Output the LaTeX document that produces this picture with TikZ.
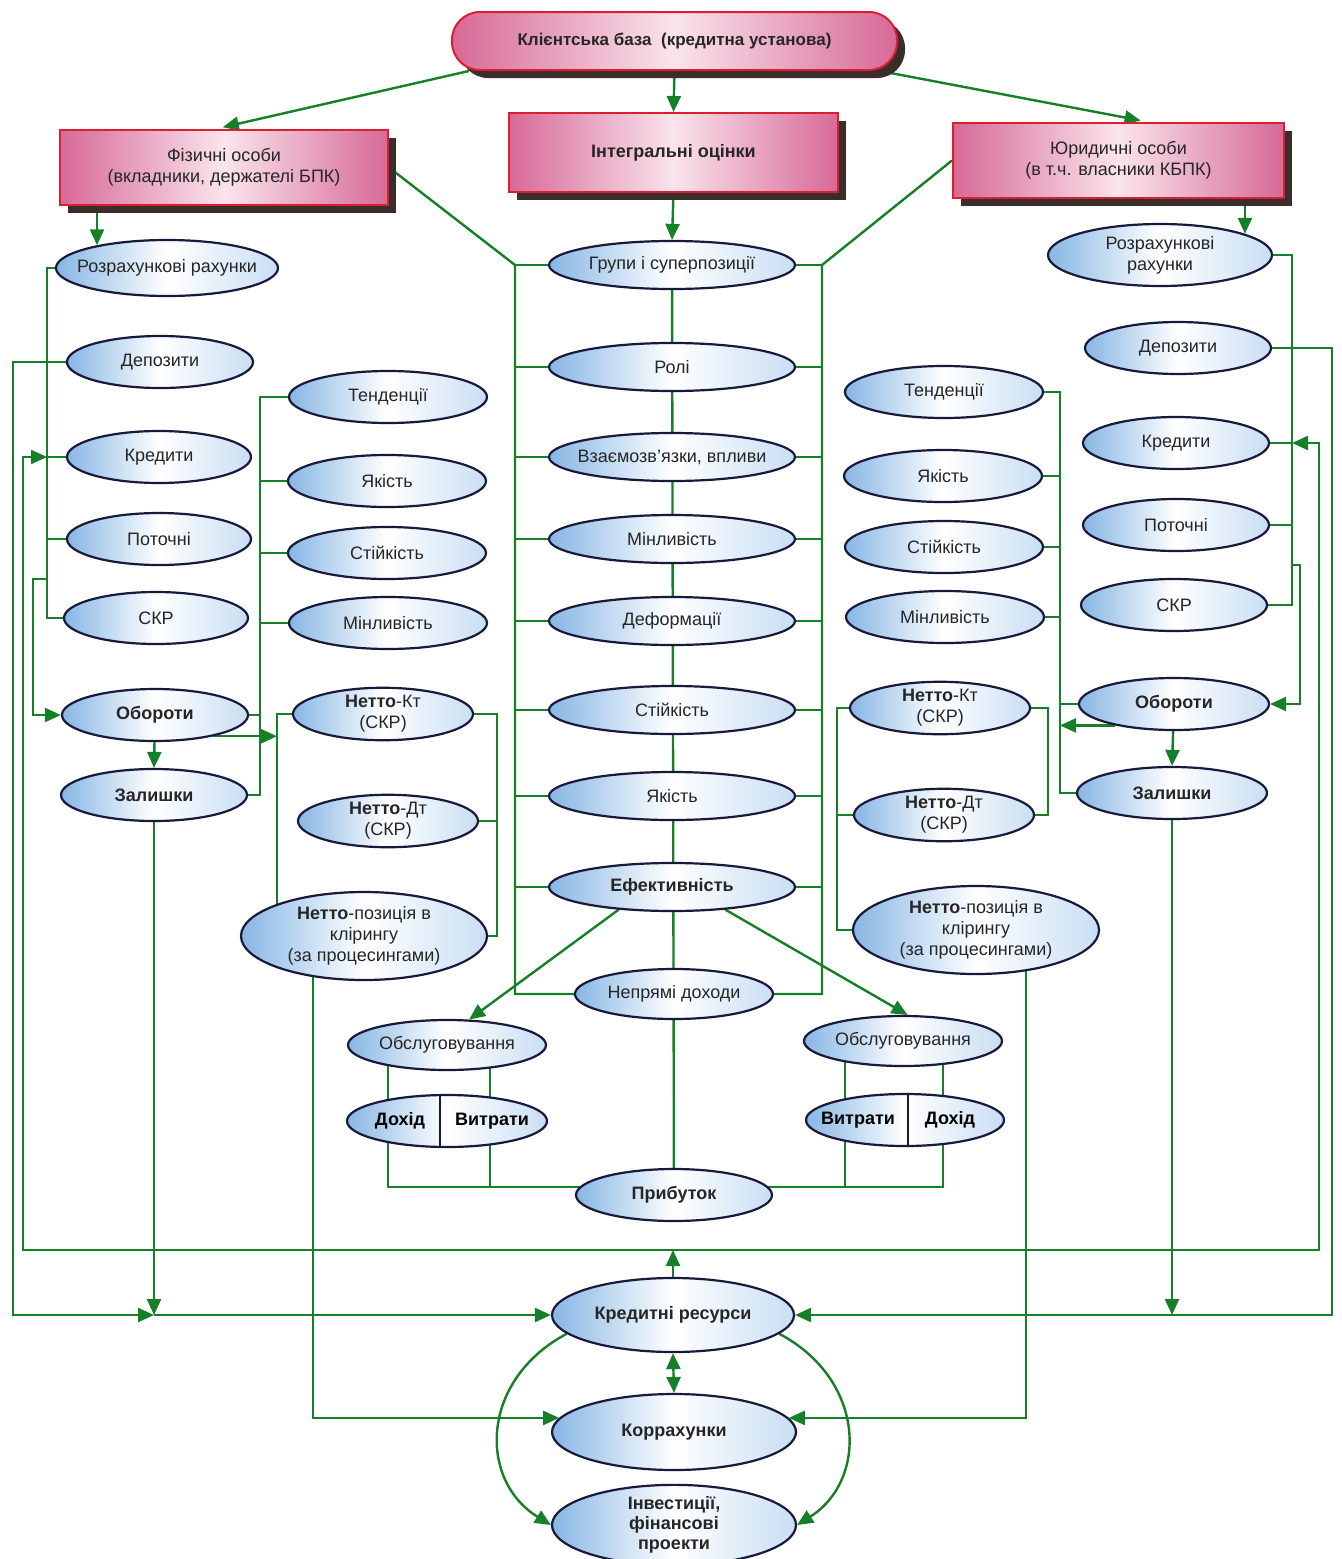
\documentclass[tikz,border=0pt]{standalone}
\usepackage{fontspec}
\setmainfont{Liberation Sans}
\usetikzlibrary{shapes.geometric,arrows.meta,backgrounds,shadows,calc}
\definecolor{lg}{RGB}{22,128,40}
\definecolor{eblue}{RGB}{135,182,228}
\definecolor{navy}{RGB}{25,25,60}
\definecolor{pinkD}{RGB}{215,105,150}
\definecolor{pinkL}{RGB}{250,228,236}
\definecolor{bred}{RGB}{220,30,50}
\definecolor{shd}{RGB}{60,45,45}
\newcommand\dgfs{\fontsize{9}{10.5}\selectfont}
\begin{document}
\begin{tikzpicture}[x=0.5pt,y=-0.5pt,font=\dgfs,
  es/.style 2 args={minimum width={#1*0.5pt},minimum height={#2*0.5pt}},
  ell/.style={ellipse,draw=navy,line width=1.1pt,inner sep=0pt,align=center,
    left color=eblue,right color=eblue!45!white,middle color=white,text=black!85},
  bt/.style={font=\dgfs\bfseries},
  pbox/.style={rectangle,draw=bred,line width=1pt,align=center,inner sep=2pt,
    left color=pinkD,right color=pinkD,middle color=pinkL,text=black!85,
    drop shadow={shadow xshift=4pt,shadow yshift=-4pt,fill=shd,opacity=1}},
  conn/.style={draw=lg,line width=1.2pt},
  arr/.style={conn,-{Triangle[length=8pt,width=7pt]}},
  darr/.style={conn,{Triangle[length=8pt,width=7pt]}-{Triangle[length=8pt,width=7pt]}},
  divl/.style={draw=navy,line width=1.1pt}]
\useasboundingbox (0,0) rectangle (1341,1559);

% top level
\node[pbox,es={445}{58},rounded corners=14pt,font=\fontsize{8.5}{10}\selectfont\bfseries] (top) at (674.5,41) {Клієнтська база\ \ (кредитна установа)};
\node[pbox,es={328}{75}] (fiz) at (224,167.5) {Фізичні особи\\(вкладники, держателі БПК)};
\node[pbox,es={329}{79},bt] (integ) at (673.5,152.5) {Інтегральні оцінки};
\node[pbox,es={331}{75}] (yur) at (1118.5,160.5) {Юридичні особи\\(в т.ч. власники КБПК)};

% left column
\node[ell,es={222}{56},inner xsep=-13pt] (lRR) at (167,268) {Розрахункові рахунки};
\node[ell,es={186}{52}] (lDep) at (160,362) {Депозити};
\node[ell,es={184}{52}] (lKred) at (159,457) {Кредити};
\node[ell,es={184}{52}] (lPot) at (159,539) {Поточні};
\node[ell,es={184}{52}] (lSKR) at (156,618) {СКР};
\node[ell,es={186}{52},bt] (lOb) at (155,715) {Обороти};
\node[ell,es={186}{52},bt] (lZal) at (154,795) {Залишки};

% left middle column
\node[ell,es={198}{52}] (lmT) at (388,397) {Тенденції};
\node[ell,es={198}{52}] (lmY) at (387,481) {Якість};
\node[ell,es={198}{52}] (lmS) at (387,553) {Стійкість};
\node[ell,es={198}{52}] (lmM) at (388,623) {Мінливість};
\node[ell,es={180}{52}] (lnK) at (383,714) {\textbf{Нетто}-Кт\\(СКР)};
\node[ell,es={180}{52}] (lnD) at (388,821) {\textbf{Нетто}-Дт\\(СКР)};
\node[ell,es={246}{88}] (lnP) at (364,936) {\textbf{Нетто}-позиція в\\клірингу\\(за процесингами)};

% centre column
\node[ell,es={246}{48}] (c1) at (672,265) {Групи і суперпозиції};
\node[ell,es={246}{48}] (c2) at (672,367) {Ролі};
\node[ell,es={246}{48},inner xsep=-8pt] (c3) at (672,457) {Взаємозв'язки, впливи};
\node[ell,es={246}{48}] (c4) at (672,539) {Мінливість};
\node[ell,es={246}{48}] (c5) at (672,621) {Деформації};
\node[ell,es={246}{48}] (c6) at (672,710) {Стійкість};
\node[ell,es={246}{48}] (c7) at (672,796) {Якість};
\node[ell,es={246}{48},bt] (c8) at (672,887) {Ефективність};
\node[ell,es={198}{50}] (c9) at (674,994) {Непрямі доходи};

% service and profit
\node[ell,es={198}{50}] (obL) at (447,1045) {Обслуговування};
\node[ell,es={200}{52}] (dvL) at (447,1121) {};
\node[bt] (dvLa) at (400,1121) {Дохід};
\node[bt] (dvLb) at (492,1121) {Витрати};
\draw[divl] (440,1095.1) -- (440,1146.9);
\node[ell,es={198}{50}] (obR) at (903,1041) {Обслуговування};
\node[ell,es={198}{52}] (dvR) at (905,1120) {};
\node[bt] (dvRa) at (858,1120) {Витрати};
\node[bt] (dvRb) at (950,1120) {Дохід};
\draw[divl] (908,1094) -- (908,1146);
\node[ell,es={196}{52},bt] (prib) at (674,1195) {Прибуток};

% right middle column
\node[ell,es={198}{52}] (rmT) at (944,392) {Тенденції};
\node[ell,es={198}{52}] (rmY) at (943,476) {Якість};
\node[ell,es={198}{52}] (rmS) at (944,547) {Стійкість};
\node[ell,es={198}{52}] (rmM) at (945,617) {Мінливість};
\node[ell,es={180}{52}] (rnK) at (940,708) {\textbf{Нетто}-Кт\\(СКР)};
\node[ell,es={180}{52}] (rnD) at (944,815) {\textbf{Нетто}-Дт\\(СКР)};
\node[ell,es={246}{88}] (rnP) at (976,930) {\textbf{Нетто}-позиція в\\клірингу\\(за процесингами)};

% right column
\node[ell,es={224}{62}] (rRR) at (1160,255) {Розрахункові\\рахунки};
\node[ell,es={186}{52}] (rDep) at (1178,348) {Депозити};
\node[ell,es={186}{52}] (rKred) at (1176,443) {Кредити};
\node[ell,es={186}{52}] (rPot) at (1176,525) {Поточні};
\node[ell,es={186}{52}] (rSKR) at (1174,605) {СКР};
\node[ell,es={190}{52},bt] (rOb) at (1174,704) {Обороти};
\node[ell,es={190}{52},bt] (rZal) at (1172,793) {Залишки};

% bottom
\node[ell,es={242}{74},bt] (kr) at (673,1315) {Кредитні ресурси};
\node[ell,es={244}{76},bt] (kor) at (674,1432) {Коррахунки};
\node[ell,es={244}{76},font=\fontsize{9}{10}\selectfont\bfseries] (inv) at (674,1525) {Інвестиції,\\фінансові\\проекти};

% bus coordinates
\coordinate (xA) at (13,0);   \coordinate (xB) at (23,0);
\coordinate (xC) at (33,0);   \coordinate (xD) at (47,0);
\coordinate (xE) at (260,0);  \coordinate (xF) at (277,0);
\coordinate (xG) at (313,0);  \coordinate (xH) at (497,0);
\coordinate (xI) at (515,0);  \coordinate (xJ) at (822,0);
\coordinate (xK) at (837,0);  \coordinate (xL) at (1026,0);
\coordinate (xM) at (1048,0); \coordinate (xN) at (1060,0);
\coordinate (xO) at (1292,0); \coordinate (xP) at (1300,0);
\coordinate (xQ) at (1319,0); \coordinate (xR) at (1332,0);
\coordinate (xa1) at (388,0); \coordinate (xa2) at (490,0);
\coordinate (xb1) at (845,0); \coordinate (xb2) at (943,0);
\coordinate (yH) at (0,1250);
\coordinate (j1) at (47,579);
\coordinate (j2) at (1292,565);

\begin{scope}[on background layer]
\fill[white] (0,0) rectangle (1341,1559);
% top arrows
\draw[arr,shorten >=4pt] ($(top.south west)!0.04!(top.south east)$) -- ($(fiz.north)+(-9,0)$);
\draw[arr] (top.south) -- (integ.north);
\draw[arr,shorten >=4pt] ($(top.south west)!0.96!(top.south east)$) -- ($(yur.north)+(30,0)$);
\draw[arr] (fiz.south -| lRR.162) -- (lRR.162);
\draw[arr] (integ.south) -- (c1.north);
\draw[arr] (yur.south -| rRR.14) -- (rRR.14);

% centre column
\draw[conn] (c1) -- (prib);
\draw[conn] (fiz.east) -- (c1 -| xI) -- (c9 -| xI) -- (c9);
\draw[conn] (yur.west) -- (c1 -| xJ) -- (c9 -| xJ) -- (c9);
\foreach \n in {c1,c2,c3,c4,c5,c6,c7,c8} \draw[conn] (\n -| xI) -- (\n -| xJ);
\draw[arr] (c8.203) -- (obL.49);
\draw[arr] (c8.-23) -- (obR.80);
\draw[conn] (obL -| xa1) -- (xa1 |- prib.175) -- (prib.175);
\draw[conn] (obL -| xa2) -- (xa2 |- prib.175);
\draw[conn] (obR -| xb1) -- (xb1 |- prib.5);
\draw[conn] (obR -| xb2) -- (xb2 |- prib.5) -- (prib.5);

% left column
\draw[conn] (lRR) -- (lRR -| xD) -- (lSKR -| xD) -- (lSKR);
\draw[conn] (lPot) -- (lPot -| xD);
\draw[arr] (j1) -- (j1 -| xC) -- (xC |- lOb) -- (lOb.west);
\draw[conn] (lmT) -- (lmT -| xE) -- (lZal -| xE) -- (lZal);
\foreach \n in {lmY,lmS,lmM,lOb} \draw[conn] (\n) -- (\n -| xE);
\draw[arr] (lOb.-20) -- (lOb.-20 -| xF);
\draw[conn] (lnK) -- (lnK -| xF) -- (lnP -| xF);
\draw[conn] (lnK) -- (lnK -| xH) -- (lnP -| xH) -- (lnP);
\draw[conn] (lnD) -- (lnD -| xH);
\draw[arr] (lOb) -- (lZal.north);
\draw[arr] (lnP -| xG) -- (xG |- kor.173) -- (kor.173);
\draw[arr] (lDep) -- (lDep -| xA) -- (xA |- kr) -- (lZal |- kr);
\draw[arr] (lZal |- kr) -- (kr.west);
\draw[arr] (lZal) -- (lZal |- kr);

% right column
\draw[conn] (rRR) -- (rRR -| xO) -- (rSKR -| xO) -- (rSKR);
\draw[conn] (rPot) -- (rPot -| xO);
\draw[arr] (j2) -- (j2 -| xP) -- (xP |- rOb) -- (rOb.east);
\draw[conn] (rmT) -- (rmT -| xN) -- (rZal -| xN) -- (rZal);
\foreach \n in {rmY,rmS,rmM,rOb} \draw[conn] (\n) -- (\n -| xN);
\draw[arr] (rOb.200) -- (rOb.200 -| xN);
\draw[conn] (rnK) -- (rnK -| xK) -- (rnP -| xK) -- (rnP);
\draw[conn] (rnD) -- (rnD -| xK);
\draw[conn] (rnK) -- (rnK -| xM) -- (rnD -| xM) -- (rnD);
\draw[arr] (rOb) -- (rZal.north);
\draw[arr] (rnP -| xL) -- (xL |- kor.7) -- (kor.7);
\draw[arr] (rDep) -- (rDep -| xR) -- (xR |- kr) -- (kr.east);
\draw[arr] (rZal) -- (rZal |- kr);

% big loop to credits
\draw[arr] (kr.north) -- (kr.north |- yH);
\draw[arr] (kr.north |- yH) -- (xB |- yH) -- (xB |- lKred) -- (xD |- lKred);
\draw[conn] (xD |- lKred) -- (lKred);
\draw[arr] (kr.north |- yH) -- (xQ |- yH) -- (xQ |- rKred) -- (xO |- rKred);
\draw[conn] (xO |- rKred) -- (rKred);

% bottom
\draw[darr] (kr.south) -- (kor.north);
\draw[arr] (kr.190) .. controls (480,1380) and (478,1480) .. (inv.west);
\draw[arr] (kr.-10) .. controls (866,1380) and (868,1480) .. (inv.east);
\end{scope}
\end{tikzpicture}
\end{document}
